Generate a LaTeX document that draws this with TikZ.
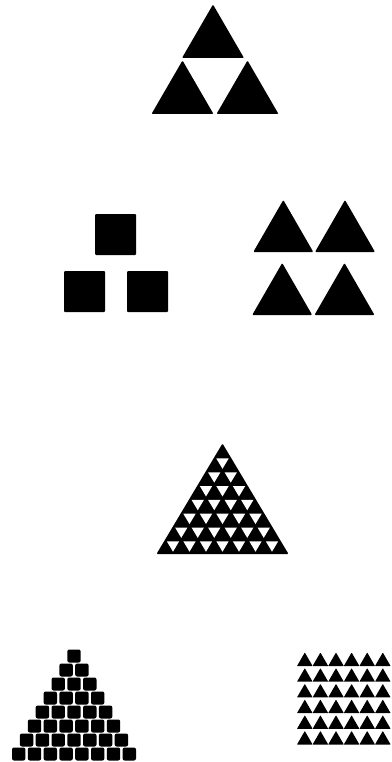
\documentclass[tikz,border=0pt]{standalone}

\begin{document}
\begin{tikzpicture}[
    x=1pt, y=-1pt,
    ink/.style={fill=black, rounded corners=1pt},
    hole/.style={fill=white},
    tile/.style={fill=black, rounded corners=2pt},
    speck/.style={fill=black, rounded corners=0.4pt}
]
\useasboundingbox (0,0) rectangle (391,762);

% Three triangles
\foreach \cx/\by in {213/58, 182.5/114, 247.5/114}
  \fill[ink] (\cx-31,\by) -- (\cx+31,\by) -- (\cx,\by-53.5) -- cycle;

% Three squares
\foreach \lx/\ty in {95/214, 64/271, 127/271}
  \fill[ink] (\lx,\ty) rectangle ++(41,41);

% Four triangles
\foreach \cx/\by in {283.3/252, 345/252, 282.2/315, 344.5/315}
  \fill[ink] (\cx-30,\by) -- (\cx+30,\by) -- (\cx,\by-52) -- cycle;

% Big triangle with holes
\fill[ink] (156.5,554) -- (288.5,554) -- (222.5,443.5) -- cycle;
\foreach \r in {1,...,7}
  \foreach \k in {1,...,\r}
    \fill[hole, shift={({222.5+(2*\k-\r-1)*8.25},{443.5+\r*13.81+4.6})}, scale=0.75]
      (-8.25,-4.6) -- (8.25,-4.6) -- (0,9.21) -- cycle;

% Pyramid of squares
\foreach \r in {0,...,7}
  \foreach \k in {0,...,\r}
    \fill[tile] ({74+(\k-\r/2)*15.8-6.7},{649.5+\r*14}) rectangle ++(13.4,13);

% Rows of small triangles
\foreach \r in {0,...,5}
  \foreach \k in {0,...,5}
    \fill[speck] ({297+\k*15.6},{666+\r*15.7}) -- ++(15.6,0) -- ++(-7.8,-13.5) -- cycle;

\end{tikzpicture}
\end{document}
